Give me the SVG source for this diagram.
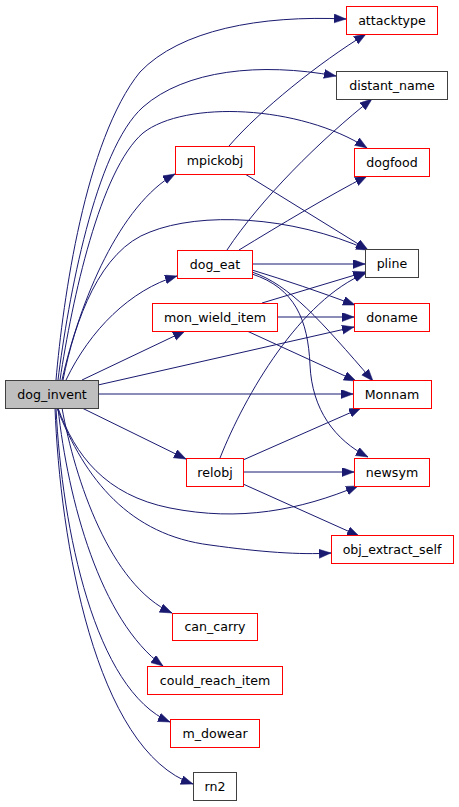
<svg xmlns="http://www.w3.org/2000/svg" width="459" height="807" viewBox="0 0 459 807">
<style>
.n rect{fill:#fff;stroke-width:1}
.r rect{stroke:#ff0000}
.k rect{stroke:#404040}
.g rect{fill:#bfbfbf;stroke:#404040}
text{font-family:"DejaVu Sans","Liberation Sans",sans-serif;font-size:12.6px;fill:#000;text-anchor:middle}
#edges path{fill:none;stroke:#191970;stroke-width:1;marker-end:url(#ah)}
</style>
<defs>
<marker id="ah" markerUnits="userSpaceOnUse" markerWidth="13" markerHeight="10" refX="12" refY="4.5" orient="auto">
<path d="M0,0 L12,4.5 L0,9 z" fill="#191970" stroke="#191970" stroke-width="0.5"/>
</marker>
</defs>
<rect width="459" height="807" fill="#fff"/>
<g id="edges">
<path d="M56,380 C 63,300 85,140 140,72 C 180,30 260,15 346,19"/>
<path d="M58,380 C 68,300 95,150 143,107 C 185,70 260,62 336,76"/>
<path d="M60,380 C 72,300 100,170 143,133 C 185,100 300,105 367,148"/>
<path d="M62,380 C 80,300 120,205 175,174"/>
<path d="M63,380 C 75,320 100,250 150,232 C 200,212 290,215 368,250"/>
<path d="M66,380 C 90,330 130,290 177,276"/>
<path d="M82,380 L185,331"/>
<path d="M98,385 L354,327"/>
<path d="M98,394 L353,394"/>
<path d="M82,408 L186,459"/>
<path d="M58,408 C 75,455 105,495 170,508 C 240,522 300,510 358,486"/>
<path d="M57,408 C 85,480 130,535 210,545 C 260,552 300,555 331,553"/>
<path d="M62,408 C 75,480 110,585 172,613"/>
<path d="M58,408 C 68,500 100,620 163,666"/>
<path d="M56,408 C 62,530 95,690 170,722"/>
<path d="M55,408 C 60,540 95,750 193,784"/>
<path d="M229,146 C 260,110 320,62 366,34"/>
<path d="M245,174 L368,250"/>
<path d="M227,250 C 260,200 320,140 372,99"/>
<path d="M239,250 C 280,225 330,195 367,176"/>
<path d="M252,264 L365,264"/>
<path d="M252,270 C 285,280 320,292 355,305"/>
<path d="M252,272 C 290,285 320,320 373,381"/>
<path d="M252,274 C 295,288 308,320 310,365 C 312,410 335,440 368,457"/>
<path d="M262,303 L365,272"/>
<path d="M277,317 L354,317"/>
<path d="M247,331 L356,381"/>
<path d="M220,458 C 245,395 300,300 366,273"/>
<path d="M243,460 L361,408"/>
<path d="M243,472 L354,472"/>
<path d="M243,484 L359,536"/>
</g>
<g id="dog_invent" class="n g"><rect x="5.5" y="380.5" width="93" height="28"/><text x="52" y="398.5">dog_invent</text></g>
<g id="mpickobj" class="n r"><rect x="175.5" y="146.5" width="79" height="28"/><text x="215" y="164.5">mpickobj</text></g>
<g id="dog_eat" class="n r"><rect x="177.5" y="250.5" width="75" height="28"/><text x="215" y="268.5">dog_eat</text></g>
<g id="mon_wield_item" class="n r"><rect x="152.5" y="303.5" width="125" height="28"/><text x="215" y="321.5">mon_wield_item</text></g>
<g id="relobj" class="n r"><rect x="186.5" y="458.5" width="57" height="28"/><text x="215" y="476.5">relobj</text></g>
<g id="can_carry" class="n r"><rect x="172.5" y="613.5" width="85" height="27"/><text x="215" y="631">can_carry</text></g>
<g id="could_reach_item" class="n r"><rect x="147.5" y="666.5" width="135" height="28"/><text x="215" y="684.5">could_reach_item</text></g>
<g id="m_dowear" class="n r"><rect x="170.5" y="719.5" width="89" height="28"/><text x="215" y="737.5">m_dowear</text></g>
<g id="rn2" class="n k"><rect x="193.5" y="772.5" width="43" height="28"/><text x="215" y="790.5">rn2</text></g>
<g id="attacktype" class="n r"><rect x="346.5" y="6.5" width="91" height="28"/><text x="392" y="24.5">attacktype</text></g>
<g id="distant_name" class="n k"><rect x="336.5" y="71.5" width="111" height="28"/><text x="392" y="89.5">distant_name</text></g>
<g id="dogfood" class="n r"><rect x="354.5" y="148.5" width="75" height="28"/><text x="392" y="166.5">dogfood</text></g>
<g id="pline" class="n k"><rect x="365.5" y="249.5" width="53" height="28"/><text x="392" y="267.5">pline</text></g>
<g id="doname" class="n r"><rect x="354.5" y="303.5" width="75" height="28"/><text x="392" y="321.5">doname</text></g>
<g id="Monnam" class="n r"><rect x="353.5" y="380.5" width="78" height="28"/><text x="392" y="398.5">Monnam</text></g>
<g id="newsym" class="n r"><rect x="354.5" y="458.5" width="75" height="28"/><text x="392" y="476.5">newsym</text></g>
<g id="obj_extract_self" class="n r"><rect x="331.5" y="535.5" width="122" height="28"/><text x="392" y="553.5">obj_extract_self</text></g>
</svg>
